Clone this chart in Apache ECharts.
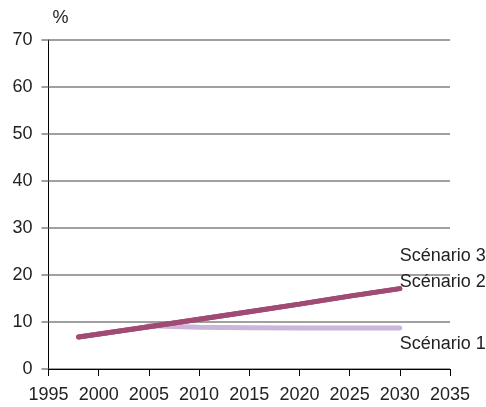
<!DOCTYPE html>
<html><head><meta charset="utf-8">
<script src="https://cdn.jsdelivr.net/npm/echarts@6/dist/echarts.min.js"></script>
<style>html,body{margin:0;padding:0;background:#fff}#c{width:486px;height:407px}</style>
</head><body><div id="c"></div>
<script>
const years2 = [1998, 2005, 2010, 2015, 2020, 2025, 2030];
const scenario2 = [6.8, 9.0, 10.6, 12.2, 13.8, 15.5, 17.1];
const scenario3 = [6.8, 9.0, 10.6, 12.2, 13.8, 15.5, 17.1];
const years1 = [2005, 2010, 2015, 2020, 2025, 2030];
const scenario1 = [9.2, 8.9, 8.8, 8.7, 8.7, 8.7];
const names = ['Scénario 1', 'Scénario 2', 'Scénario 3'];

const font = '"Liberation Sans", Arial, sans-serif';
const chart = echarts.init(document.getElementById('c'));
const pair = (xs, ys) => xs.map((x, i) => [x, ys[i]]);
const lbl = (dy) => ({show: true, formatter: '{a}', distance: 0, offset: [0, dy], align: 'left',
  color: '#222', fontSize: 18, fontFamily: font});
chart.setOption({
  animation: false,
  grid: {left: 48.5, right: 36, top: 40, bottom: 38},
  xAxis: {type: 'value', min: 1995, max: 2035, interval: 5,
    axisLine: {lineStyle: {color: '#000', width: 1}},
    axisTick: {show: true, length: 7, lineStyle: {color: '#000'}},
    axisLabel: {color: '#222', fontSize: 18, fontFamily: font, margin: 17, formatter: v => String(v)},
    splitLine: {show: false}},
  yAxis: {type: 'value', min: 0, max: 70, interval: 10, name: '%',
    nameLocation: 'end', nameGap: 13, nameTextStyle: {color: '#222', fontSize: 18, fontFamily: font, align: 'left', padding: [0, 0, 0, 4]},
    axisLine: {show: true, lineStyle: {color: '#000', width: 1}},
    axisTick: {show: true, length: 7, lineStyle: {color: '#808080', width: 1.5}},
    axisLabel: {color: '#222', fontSize: 18, fontFamily: font, margin: 16},
    splitLine: {show: true, lineStyle: {color: '#808080', width: 1.5}}},
  series: [
    {name: names[0], type: 'line', data: pair(years1, scenario1), showSymbol: false, z: 2,
      lineStyle: {color: '#cbb5db', width: 5, cap: 'round'}, endLabel: lbl(16)},
    {name: names[2], type: 'line', data: pair(years2, scenario3), showSymbol: false, z: 3,
      lineStyle: {color: '#a04b74', width: 5, cap: 'round'}, endLabel: lbl(-33)},
    {name: names[1], type: 'line', data: pair(years2, scenario2), showSymbol: false, z: 4,
      lineStyle: {color: '#a04b74', width: 5, cap: 'round'}, endLabel: lbl(-7)}
  ]
});
</script></body></html>
